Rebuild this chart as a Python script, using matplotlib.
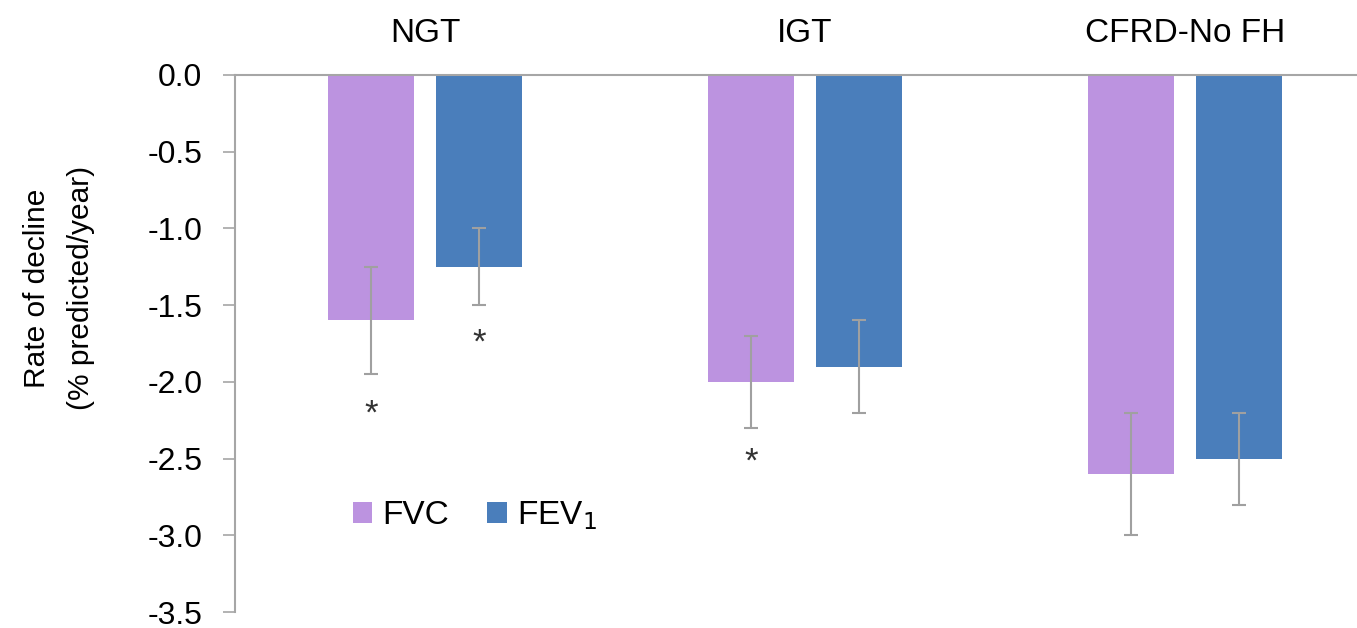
import matplotlib
matplotlib.use("Agg")
import matplotlib.pyplot as plt
import numpy as np

plt.rcParams['font.family'] = ['Liberation Sans', 'DejaVu Sans']

categories = ["NGT", "IGT", "CFRD-No FH"]
fvc = [-1.6, -2.0, -2.6]
fev1 = [-1.25, -1.9, -2.5]
fvc_err = [0.35, 0.3, 0.4]
fev1_err = [0.25, 0.3, 0.3]
# significance markers: (category index, series, y position)
stars = [(0, "FVC", -2.21), (0, "FEV1", -1.75), (1, "FVC", -2.52)]
yticks = [0.0, -0.5, -1.0, -1.5, -2.0, -2.5, -3.0, -3.5]

W, H = 1357, 628
fig = plt.figure(figsize=(W / 100, H / 100), dpi=100)
left, right, top, bottom = 235, 1357, 75, 612
ax = fig.add_axes([left / W, 1 - bottom / H, (right - left) / W, (bottom - top) / H])

c_fvc = "#BC93E0"
c_fev = "#4A7EBB"
x = np.arange(len(categories))
off = 0.142
bw = 0.224
ax.bar(x - off, fvc, bw, color=c_fvc, label="FVC", zorder=2)
ax.bar(x + off, fev1, bw, color=c_fev, label="FEV$_1$", zorder=2)
ekw = dict(fmt="none", ecolor="#A0A0A0", elinewidth=1.5, capsize=4.7, capthick=1.5, zorder=3)
ax.errorbar(x - off, fvc, yerr=fvc_err, **ekw)
ax.errorbar(x + off, fev1, yerr=fev1_err, **ekw)

for ci, s, yv in stars:
    xx = ci - off if s == "FVC" else ci + off
    ax.text(xx, yv, "*", ha="center", va="center", fontsize=25, color="#333333")

ax.set_xlim(-0.5, -0.5 + (right - left) / 380)
ax.set_ylim(-3.5, 0)
ax.set_yticks(yticks)
ax.set_yticklabels([f"{v:.1f}" for v in yticks], fontsize=23)
ax.tick_params(axis="y", length=8.6, width=1.2, color="#A6A6A6", pad=15)
ax.xaxis.tick_top()
ax.set_xticks(x)
ax.set_xticklabels(categories, fontsize=24)
ax.tick_params(axis="x", length=0, pad=18.5)

for sp in ["right", "bottom"]:
    ax.spines[sp].set_visible(False)
for sp in ["left", "top"]:
    ax.spines[sp].set_color("#A6A6A6")
    ax.spines[sp].set_linewidth(1.5)

ax.set_ylabel("Rate of decline\n(% predicted/year)", fontsize=21.5, linespacing=1.7)
ax.yaxis.set_label_coords(-0.125, 0.603)

ax.legend(loc="center left", bbox_to_anchor=(0.105, 0.18), ncol=2, frameon=False,
          fontsize=24, handlelength=0.58, handleheight=0.58, handletextpad=0.3,
          columnspacing=1.15, borderaxespad=0, borderpad=0)

fig.savefig("out.png", dpi=100)
